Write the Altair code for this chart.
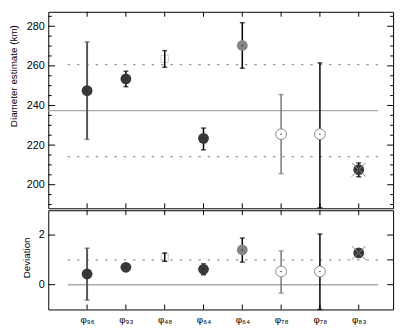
import altair as alt
import pandas as pd

# ---------------- data ----------------
idx = [1, 2, 3, 4, 5, 6, 7, 8]
phi_sub = ["96", "93", "48", "64", "64", "78", "78", "83"]
diam = [247.5, 253.4, 263.6, 223.4, 270.3, 225.5, 225.5, 207.6]
diam_lo = [222.9, 249.5, 259.3, 217.6, 258.8, 205.6, 188.4, 204.0]
diam_hi = [272.1, 257.3, 267.7, 228.6, 281.8, 245.5, 261.5, 211.0]
dev = [0.43, 0.70, 1.10, 0.62, 1.40, 0.53, 0.53, 1.28]
dev_lo = [-0.62, 0.55, 0.94, 0.40, 0.91, -0.34, -1.0, 1.28]
dev_hi = [1.47, 0.82, 1.28, 0.84, 1.88, 1.36, 2.04, 1.28]
marker = ["dark", "dark", "square", "dark", "mid", "open", "open", "cross"]
fill_color = ["#383838", "#383838", "#cccccc", "#383838", "#858585", "#888888", "#888888", "#383838"]
bar_color = ["#555555", "#000000", "#000000", "#000000", "#000000", "#777777", "#000000", "#000000"]
bar_width = [2.0, 1.5, 1.5, 1.5, 1.5, 1.5, 1.5, 1.5]

mean_diam = 237.4
sd_diam = 23.2

top_major = [200, 220, 240, 260, 280]
top_minor = [190, 195, 205, 210, 215, 225, 230, 235, 245, 250, 255, 265, 270, 275, 285]
bot_left_major = [0, 2]
bot_right_major = [0, 1, 2]

top_lines = pd.DataFrame({
    "x": [0.0, 0.5, 0.5],
    "x2": [8.5, 8.5, 8.5],
    "y": [mean_diam, mean_diam + sd_diam, mean_diam - sd_diam],
    "kind": ["solid", "dot", "dot"],
})
bot_lines = pd.DataFrame({
    "x": [0.5, 0.5],
    "x2": [8.5, 8.5],
    "y": [0.0, 1.0],
    "kind": ["solid", "dot"],
})

df = pd.DataFrame({
    "idx": idx, "sub": phi_sub,
    "diam": diam, "diam_lo": diam_lo, "diam_hi": diam_hi,
    "dev": dev, "dev_lo": dev_lo, "dev_hi": dev_hi,
    "marker": marker, "fill": fill_color, "bar": bar_color, "bw": bar_width,
})

W, H1, H2 = 351, 200, 101
FONT = "Liberation Sans"

xscale = alt.Scale(domain=[0, 8.886], nice=False, zero=False)
top_scale = alt.Scale(domain=[188.1, 287.3], nice=False, zero=False)
bot_scale = alt.Scale(domain=[-1, 3], nice=False, zero=False)

top_axis = alt.Axis(values=top_major, ticks=False, tickSize=0, domain=False, grid=False,
                    labelPadding=4, labelFontSize=11, labelColor="black",
                    titleX=-30, titleY=65, titleFontSize=10, titleFontWeight="normal",
                    titleColor="black")
bot_axis = alt.Axis(values=[0, 2], ticks=False, tickSize=0, domain=False, grid=False,
                    labelPadding=4, labelFontSize=11, labelColor="black",
                    titleX=-17, titleY=48, titleFontSize=10, titleFontWeight="normal",
                    titleColor="black")

SUBS = str.maketrans("0123456789", "\u2080\u2081\u2082\u2083\u2084\u2085\u2086\u2087\u2088\u2089")
tick_labels = ["\u03c6" + s.translate(SUBS) for s in phi_sub]
label_expr = "[" + ",".join(f"'{t}'" for t in tick_labels) + "][datum.value - 1]"
phi_axis = alt.Axis(orient="bottom", values=idx, labelExpr=label_expr, ticks=False, tickSize=0,
                    domain=False, grid=False, labelFontSize=10, labelColor="black",
                    labelBaseline="alphabetic", labelPadding=13, labelOffset=0,
                    labelAlign="center", title=None, labelFont=FONT)


def X(field, axis=None):
    return alt.X(f"{field}:Q", scale=xscale, axis=axis, title=None)


def panel(yf, lof, hif, scale, axis, title, lines, H, left_major, left_minor,
          right_major, right_minor, labels=False):
    def Y(field):
        return alt.Y(f"{field}:Q", scale=scale, axis=axis, title=title)

    xa = phi_axis if labels else None
    base = alt.Chart(df)
    layers = []
    ln = alt.Chart(lines)
    layers.append(ln.transform_filter("datum.kind == 'solid'").mark_rule(
        color="#aaaaaa", strokeWidth=1.5).encode(x=X("x", xa), x2="x2", y=Y("y")))
    layers.append(ln.transform_filter("datum.kind == 'dot'").mark_rule(
        color="#999999", strokeWidth=1.2, strokeDash=[2.5, 7]).encode(x=X("x", xa), x2="x2", y=Y("y")))
    layers.append(base.transform_filter("datum.marker == 'square'").mark_point(
        shape="square", filled=False, size=55, strokeWidth=1, color="#cccccc", opacity=1
    ).encode(x=X("idx", xa), y=Y(yf)))
    layers.append(base.mark_rule().encode(
        x=X("idx", xa), y=Y(lof), y2=f"{hif}:Q",
        color=alt.Color("bar:N", scale=None),
        strokeWidth=alt.StrokeWidth("bw:Q", scale=None)))
    for f in (lof, hif):
        layers.append(base.mark_tick(orient="horizontal", size=5, thickness=1.5).encode(
            x=X("idx", xa), y=Y(f), color=alt.Color("bar:N", scale=None)))
    layers.append(base.transform_filter("datum.marker != 'square' && datum.marker != 'open'").mark_circle(
        size=121, opacity=1).encode(x=X("idx", xa), y=Y(yf), color=alt.Color("fill:N", scale=None)))
    layers.append(base.transform_filter("datum.marker == 'open'").mark_point(
        shape="circle", filled=True, fill="white", stroke="#888888", strokeWidth=1,
        size=121, opacity=1, fillOpacity=1, strokeOpacity=1).encode(x=X("idx", xa), y=Y(yf)))
    layers.append(base.transform_filter("datum.marker == 'cross'").mark_point(
        shape="M-1,-1L1,1M1,-1L-1,1", filled=False, size=200, strokeWidth=1,
        color="#888888", opacity=1).encode(x=X("idx", xa), y=Y(yf)))
    layers.append(base.transform_filter("datum.marker != 'square'").mark_circle(
        size=2, color="#222222", opacity=1).encode(x=X("idx", xa), y=Y(yf)))
    layers.append(alt.Chart(pd.DataFrame({"v": left_major})).mark_rule(
        color="black", strokeWidth=1).encode(y=Y("v"), x=alt.value(0), x2=alt.value(7)))
    if left_minor:
        layers.append(alt.Chart(pd.DataFrame({"v": left_minor})).mark_rule(
            color="black", strokeWidth=1).encode(y=Y("v"), x=alt.value(0), x2=alt.value(3.5)))
    layers.append(alt.Chart(pd.DataFrame({"v": right_major})).mark_rule(
        color="black", strokeWidth=1).encode(y=Y("v"), x=alt.value(W), x2=alt.value(W - 6)))
    if right_minor:
        layers.append(alt.Chart(pd.DataFrame({"v": right_minor})).mark_rule(
            color="black", strokeWidth=1).encode(y=Y("v"), x=alt.value(W), x2=alt.value(W - 3)))
    layers.append(base.mark_rule(color="black", strokeWidth=1).encode(
        x=X("idx", xa), y=alt.value(0), y2=alt.value(5)))
    layers.append(base.mark_rule(color="black", strokeWidth=1).encode(
        x=X("idx", xa), y=alt.value(H), y2=alt.value(H - 5)))
    return alt.layer(*layers).properties(width=W, height=H)


top = panel("diam", "diam_lo", "diam_hi", top_scale, top_axis, "Diameter estimate (km)",
            top_lines, H1, top_major, top_minor, top_major, top_minor)
bottom = panel("dev", "dev_lo", "dev_hi", bot_scale, bot_axis, "Deviation",
               bot_lines, H2, bot_left_major, [], bot_right_major, [], labels=True)

chart = alt.vconcat(top, bottom, spacing=0).properties(
    padding={"left": 0, "top": 0, "right": 5, "bottom": 0}
).configure_view(stroke="black", strokeWidth=1).configure_axis(
    labelFont=FONT, titleFont=FONT
).configure_concat(spacing=0)

chart.save("out.html", embed_options={"renderer": "svg", "actions": False})
